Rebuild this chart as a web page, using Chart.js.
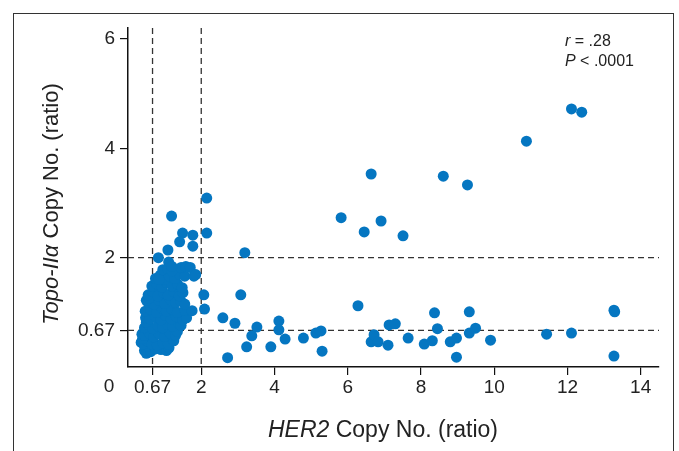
<!DOCTYPE html>
<html>
<head>
<meta charset="utf-8">
<script src="https://cdn.jsdelivr.net/npm/chart.js@4.4.0/dist/chart.umd.min.js"></script>
<style>
  body { margin: 0; background: #fff; }
  #wrap { width: 679px; height: 451px; }
</style>
</head>
<body>
<div id="wrap"><canvas id="scatterCanvas" width="679" height="451"></canvas></div>
<script>
// HER2 ratio (x) and Topo-II alpha ratio (y), one entry per patient
var her2Ratio = [
  12.11, 12.39, 10.88, 9.27, 8.61, 6.64, 5.82, 6.45, 6.91, 7.51,
  2.15, 2.15, 3.19, 1.49, 1.77, 1.77, 1.41, 1.19, 1.09, 0.83, 1.11,
  2.07, 2.09, 3.08, 2.59, 2.92, 2.72, 3.24, 3.38, 3.52, 3.90, 4.12, 4.12, 4.29,
  4.79, 5.13, 5.27, 5.30, 6.28, 6.64, 6.72, 6.83, 7.10, 7.13, 7.30, 7.65,
  8.09, 8.31, 8.37, 8.45, 8.80, 8.97, 8.97, 9.32, 9.32, 9.49, 9.90,
  11.43, 12.11, 13.27, 13.29, 13.27,
  // dense group
  0.45, 0.50, 0.62, 0.90, 1.05, 1.12, 0.55, 0.75,
  0.36, 0.42, 0.52, 0.65, 0.80, 0.95, 1.10, 1.25, 0.40,
  0.38, 0.45, 0.58, 0.70, 0.85, 1.00, 1.15, 1.30, 1.35,
  0.45, 0.55, 0.68, 0.82, 0.95, 1.08, 1.22, 1.38, 1.45, 0.50,
  0.48, 0.60, 0.75, 0.90, 1.02, 1.18, 1.32, 1.50, 1.60,
  0.47, 0.62, 0.78, 0.92, 1.05, 1.20, 1.35, 1.55, 1.75,
  0.55, 0.70, 0.85, 1.00, 1.15, 1.30, 1.45, 1.55, 0.50, 0.58,
  0.55, 0.68, 0.82, 0.97, 1.10, 1.25, 1.40, 1.50,
  0.65, 0.78, 0.92, 1.05, 1.20, 1.35, 1.48,
  0.75, 0.88, 1.00, 1.12, 1.28, 1.40, 1.55, 1.80, 0.85,
  0.95, 1.08, 1.20, 1.45, 1.58, 1.70, 1.20, 1.85
];
var topoRatio = [
  4.72, 4.66, 4.13, 3.33, 3.49, 3.53, 2.73, 2.47, 2.67, 2.40,
  3.09, 2.45, 2.09, 2.45, 2.41, 2.21, 2.29, 2.76, 2.14, 2.00, 1.92,
  1.32, 1.06, 1.32, 0.90, 0.80, 0.17, 0.37, 0.57, 0.73, 0.37, 0.84, 0.68, 0.51,
  0.53, 0.62, 0.66, 0.29, 1.12, 0.46, 0.59, 0.46, 0.40, 0.77, 0.79, 0.53,
  0.42, 0.48, 0.99, 0.70, 0.46, 0.53, 0.18, 1.01, 0.62, 0.71, 0.49,
  0.60, 0.62, 1.04, 1.01, 0.20,
  // dense group
  0.30, 0.25, 0.28, 0.32, 0.30, 0.35, 0.38, 0.33,
  0.45, 0.42, 0.48, 0.42, 0.40, 0.44, 0.42, 0.48, 0.52,
  0.60, 0.58, 0.62, 0.55, 0.60, 0.56, 0.62, 0.58, 0.65,
  0.72, 0.78, 0.70, 0.75, 0.72, 0.78, 0.74, 0.80, 0.76, 0.82,
  0.90, 0.88, 0.92, 0.86, 0.95, 0.88, 0.92, 0.86, 0.90,
  1.02, 1.05, 1.00, 1.08, 1.02, 1.06, 1.00, 1.04, 1.03,
  1.18, 1.15, 1.22, 1.16, 1.24, 1.18, 1.20, 1.15, 1.22, 1.26,
  1.32, 1.38, 1.30, 1.36, 1.32, 1.38, 1.30, 1.36,
  1.48, 1.52, 1.46, 1.55, 1.48, 1.52, 1.45,
  1.62, 1.68, 1.60, 1.66, 1.62, 1.70, 1.66, 1.66, 1.60,
  1.78, 1.80, 1.76, 1.82, 1.84, 1.82, 1.84, 1.69
];

var xTicks = [0.67, 2, 4, 6, 8, 10, 12, 14];
var yTicks = [0.67, 2, 4, 6];
var cutoffs = [0.67, 2];   // dashed reference lines on both axes
var statLines = [[{t: 'r', i: true}, {t: ' = .28'}], [{t: 'P', i: true}, {t: ' < .0001'}]];

var FONT = "'Liberation Sans', Arial, sans-serif";

var points = [];
for (var i = 0; i < her2Ratio.length; i++) {
  points.push({x: her2Ratio[i], y: topoRatio[i]});
}

// draws a line of text made of italic / upright pieces
function drawRuns(ctx, runs, x, y, size, align) {
  var total = 0;
  runs.forEach(function(r) {
    ctx.font = (r.i ? 'italic ' : '') + size + 'px ' + FONT;
    total += ctx.measureText(r.t).width;
  });
  var cx = align == 'center' ? x - total / 2 : x;
  ctx.textAlign = 'left';
  ctx.textBaseline = 'alphabetic';
  runs.forEach(function(r) {
    ctx.font = (r.i ? 'italic ' : '') + size + 'px ' + FONT;
    ctx.fillText(r.t, cx, y);
    cx += ctx.measureText(r.t).width;
  });
}

var refLines = {
  id: 'refLines',
  beforeDatasetsDraw: function(chart) {
    var ctx = chart.ctx, xs = chart.scales.x, ys = chart.scales.y, a = chart.chartArea;
    ctx.save();
    ctx.strokeStyle = '#333';
    ctx.lineWidth = 1.3;
    ctx.setLineDash([6, 4]);
    cutoffs.forEach(function(c) {
      var px = xs.getPixelForValue(c);
      ctx.beginPath(); ctx.moveTo(px, a.top); ctx.lineTo(px, a.bottom); ctx.stroke();
      var py = ys.getPixelForValue(c);
      ctx.beginPath(); ctx.moveTo(a.left, py); ctx.lineTo(a.right, py); ctx.stroke();
    });
    ctx.restore();
  },
  afterDraw: function(chart) {
    var ctx = chart.ctx, a = chart.chartArea;
    ctx.save();
    // outer frame, open at the bottom
    ctx.strokeStyle = '#333';
    ctx.lineWidth = 1;
    ctx.strokeRect(13.5, 13.5, 660, 460);
    ctx.fillStyle = '#222';
    // shared origin label
    ctx.font = '19px ' + FONT;
    ctx.textAlign = 'center';
    ctx.textBaseline = 'top';
    ctx.fillText('0', a.left - 19, a.bottom + 10);
    // axis titles
    drawRuns(ctx, [{t: 'HER2', i: true}, {t: ' Copy No. (ratio)'}], 383, 437, 23, 'center');
    ctx.save();
    ctx.translate(58, 204);
    ctx.rotate(-Math.PI / 2);
    drawRuns(ctx, [{t: 'Topo-II\u03b1', i: true}, {t: ' Copy No. (ratio)'}], 0, 0, 22, 'center');
    ctx.restore();
    // correlation
    drawRuns(ctx, statLines[0], 565, 46, 16, 'left');
    drawRuns(ctx, statLines[1], 565, 66, 16, 'left');
    ctx.restore();
  }
};

var ctx = document.getElementById('scatterCanvas');
var scatter = new Chart(ctx, {
  type: 'scatter',
  data: {
    datasets: [{
      data: points,
      backgroundColor: '#0576c1',
      borderWidth: 0,
      pointRadius: 5.5,
      pointHoverRadius: 5.5
    }]
  },
  options: {
    responsive: false,
    animation: false,
    events: [],
    layout: { padding: { left: 0, right: 20, top: 28, bottom: 0 } },
    plugins: { legend: { display: false }, tooltip: { enabled: false } },
    scales: {
      x: {
        type: 'linear', min: 0, max: 14.5,
        afterBuildTicks: function(s) { s.ticks = xTicks.map(function(v) { return {value: v}; }); },
        afterFit: function(s) { s.height = 84; },
        grid: { drawOnChartArea: false, drawTicks: true, tickLength: 8, color: '#111', lineWidth: 1.2 },
        border: { display: true, color: '#111', width: 1.5 },
        ticks: { color: '#222', font: { family: FONT, size: 19 }, padding: 1, maxRotation: 0, autoSkip: false,
                 callback: function(v) { return String(v); } }
      },
      y: {
        type: 'linear', min: 0, max: 6.2,
        afterBuildTicks: function(s) { s.ticks = yTicks.map(function(v) { return {value: v}; }); },
        afterFit: function(s) { s.width = 128; },
        grid: { drawOnChartArea: false, drawTicks: true, tickLength: 8, color: '#111', lineWidth: 1.2 },
        border: { display: true, color: '#111', width: 1.5 },
        ticks: { color: '#222', font: { family: FONT, size: 19 }, padding: 5, autoSkip: false,
                 callback: function(v) { return String(v); } }
      }
    }
  },
  plugins: [refLines]
});
</script>
</body>
</html>
